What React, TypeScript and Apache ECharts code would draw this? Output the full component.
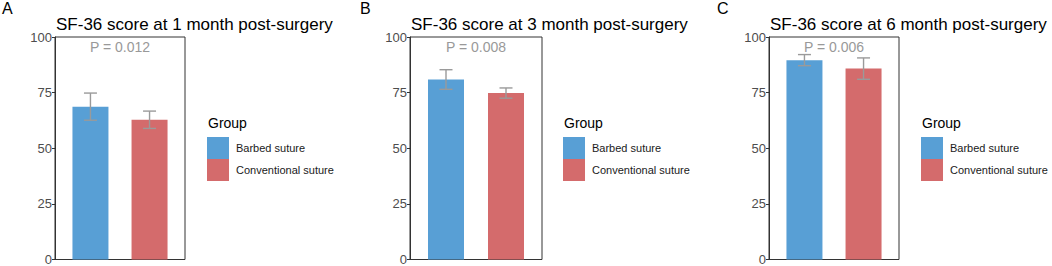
import React, { useEffect, useRef } from "react";
import * as echarts from "echarts";

const groups = ["Barbed suture", "Conventional suture"];
const panelLetters = ["A", "B", "C"];
const panelTitles = [
  "SF-36 score at 1 month post-surgery",
  "SF-36 score at 3 month post-surgery",
  "SF-36 score at 6 month post-surgery",
];
const barbedMeans = [68.7, 80.9, 89.6];
const barbedSD = [6.1, 4.4, 2.5];
const conventionalMeans = [62.8, 74.8, 85.8];
const conventionalSD = [3.9, 2.3, 4.8];
const pLabels = ["P = 0.012", "P = 0.008", "P = 0.006"];
const yTickValues = [0, 25, 50, 75, 100];

const colors = ["#589fd5", "#d46b6c"];
const FONT = "'Liberation Sans', Arial, Helvetica, sans-serif";

// layout (pixels)
const gridLefts = [55, 410, 769];
const gridWidths = [130, 132, 130];
const gridTop = 37;
const gridBottom = 6;
const legendLefts = [207, 563, 921];
const letterLefts = [2, 360, 717];

export default function App() {
  const ref = useRef<HTMLDivElement>(null);

  useEffect(() => {
    if (!ref.current) return;
    const chart = echarts.init(ref.current, undefined, { renderer: "svg" });

    const grids = gridLefts.map((l, i) => ({
      left: l,
      width: gridWidths[i],
      top: gridTop,
      bottom: gridBottom,
      show: true,
      borderColor: "#333333",
      borderWidth: 1,
      backgroundColor: "transparent",
    }));

    const xAxes = gridLefts.map((_, i) => ({
      type: "value",
      gridIndex: i,
      min: 0.4,
      max: 2.6,
      axisLabel: { show: false },
      axisTick: { show: false },
      axisLine: { show: false },
      splitLine: { show: false },
    }));

    const yAxes = gridLefts.map((_, i) => ({
      type: "value",
      gridIndex: i,
      min: yTickValues[0],
      max: yTickValues[yTickValues.length - 1],
      interval: 25,
      axisLine: { show: true, lineStyle: { color: "#333333", width: 1 } },
      axisTick: { show: true, length: 3, lineStyle: { color: "#333333" } },
      axisLabel: {
        color: "#4d4d4d",
        fontSize: 13,
        fontFamily: FONT,
        margin: 3,
      },
      splitLine: { show: false },
    }));

    const series: any[] = [];
    gridLefts.forEach((_, i) => {
      const means = [barbedMeans[i], conventionalMeans[i]];
      const sds = [barbedSD[i], conventionalSD[i]];
      groups.forEach((g, gi) => {
        series.push({
          type: "bar",
          name: g,
          xAxisIndex: i,
          yAxisIndex: i,
          barWidth: 36,
          barGap: "-100%",
          itemStyle: { color: colors[gi] },
          data: [[gi + 1, means[gi]]],
          z: 2,
        });
      });
      series.push({
        type: "custom",
        name: "err" + i,
        xAxisIndex: i,
        yAxisIndex: i,
        z: 5,
        data: means.map((m, gi) => [gi + 1, m, m - sds[gi], m + sds[gi]]),
        renderItem: (params: any, api: any) => {
          const x = api.value(0);
          const lo = api.coord([x, api.value(2)]);
          const hi = api.coord([x, api.value(3)]);
          const half = 6.5;
          const style = { stroke: "#9a9a9a", lineWidth: 1.4 };
          return {
            type: "group",
            children: [
              { type: "line", shape: { x1: hi[0], y1: hi[1], x2: lo[0], y2: lo[1] }, style },
              { type: "line", shape: { x1: hi[0] - half, y1: hi[1], x2: hi[0] + half, y2: hi[1] }, style },
              { type: "line", shape: { x1: lo[0] - half, y1: lo[1], x2: lo[0] + half, y2: lo[1] }, style },
            ],
          };
        },
      });
    });

    const titles: any[] = [];
    gridLefts.forEach((l, i) => {
      titles.push({
        text: panelTitles[i],
        left: l + 1,
        top: 16,
        padding: 0,
        textStyle: { fontSize: 17, fontWeight: "normal", color: "#000000", fontFamily: FONT },
      });
      titles.push({
        text: panelLetters[i],
        left: letterLefts[i],
        top: 0,
        padding: 0,
        textStyle: { fontSize: 16, fontWeight: "normal", color: "#000000", fontFamily: FONT },
      });
      titles.push({
        text: pLabels[i],
        left: l + gridWidths[i] / 2,
        textAlign: "center",
        top: 40,
        padding: 0,
        textStyle: { fontSize: 14, fontWeight: "normal", color: "#999999", fontFamily: FONT },
      });
      titles.push({
        text: "Group",
        left: legendLefts[i] + 1,
        top: 116,
        padding: 0,
        textStyle: { fontSize: 14, fontWeight: "normal", color: "#000000", fontFamily: FONT },
      });
    });

    const legends = legendLefts.map((l) => ({
      data: groups,
      orient: "vertical",
      left: l,
      top: 137,
      padding: 0,
      itemWidth: 22,
      itemHeight: 22,
      itemGap: 0,
      icon: "rect",
      selectedMode: false,
      textStyle: { fontSize: 11, color: "#1a1a1a", fontFamily: FONT, padding: [0, 0, 0, 2] },
    }));

    chart.setOption({
      animation: false,
      backgroundColor: "#ffffff",
      title: titles,
      legend: legends,
      grid: grids,
      xAxis: xAxes,
      yAxis: yAxes,
      series,
    });

    return () => chart.dispose();
  }, []);

  return (
    <div
      ref={ref}
      style={{ position: "absolute", left: 0, top: 0, width: 1052, height: 266 }}
    />
  );
}
